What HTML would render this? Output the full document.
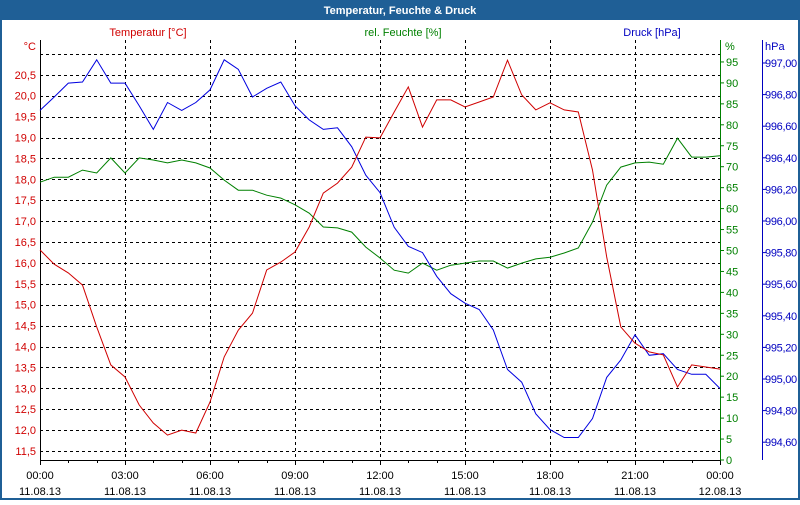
<!DOCTYPE html>
<html><head><meta charset="utf-8"><style>
body{margin:0;width:800px;height:500px;overflow:hidden;background:#fff;font-family:"Liberation Sans","DejaVu Sans",sans-serif}
svg text{font-family:"Liberation Sans","DejaVu Sans",sans-serif;font-size:11px}
</style></head><body>
<svg id="chart" width="800" height="500" xmlns="http://www.w3.org/2000/svg">
<rect x="0" y="0" width="800" height="500" fill="#1f5f96"/>
<rect x="2" y="20" width="796" height="478" fill="#ffffff"/>
<text x="400" y="14" text-anchor="middle" fill="#fff" font-weight="bold">Temperatur, Feuchte &amp; Druck</text>
<text x="148" y="36" text-anchor="middle" fill="#d00000">Temperatur [°C]</text>
<text x="403" y="36" text-anchor="middle" fill="#008000">rel. Feuchte [%]</text>
<text x="652" y="36" text-anchor="middle" fill="#0000c0">Druck [hPa]</text>
<text x="36" y="50" text-anchor="end" fill="#d00000">°C</text>
<text x="725" y="50" fill="#008000">%</text>
<text x="765" y="50" fill="#0000c0">hPa</text>
<g id="grid"></g><g id="axes"></g><g id="series"></g>
</svg>
<script>
const timeLabels=["00:00","03:00","06:00","09:00","12:00","15:00","18:00","21:00","00:00"];
const dateLabels=["11.08.13","11.08.13","11.08.13","11.08.13","11.08.13","11.08.13","11.08.13","11.08.13","12.08.13"];
const tempTicks=[20.5,20,19.5,19,18.5,18,17.5,17,16.5,16,15.5,15,14.5,14,13.5,13,12.5,12,11.5];
const humTicks=[95,90,85,80,75,70,65,60,55,50,45,40,35,30,25,20,15,10,5,0];
const presTicks=[997.0,996.8,996.6,996.4,996.2,996.0,995.8,995.6,995.4,995.2,995.0,994.8,994.6];
const hours=[0,0.5,1,1.5,2,2.5,3,3.5,4,4.5,5,5.5,6,6.5,7,7.5,8,8.5,9,9.5,10,10.5,11,11.5,12,12.5,13,13.5,14,14.5,15,15.5,16,16.5,17,17.5,18,18.5,19,19.5,20,20.5,21,21.5,22,22.5,23,23.5,24];
const temperature=[16.31,15.97,15.76,15.47,14.47,13.56,13.27,12.6,12.17,11.88,12.0,11.93,12.67,13.75,14.39,14.8,15.83,16.02,16.26,16.86,17.67,17.91,18.29,19.01,18.99,19.61,20.21,19.25,19.9,19.9,19.73,19.85,19.97,20.85,20.02,19.66,19.83,19.66,19.61,18.22,16.14,14.47,14.08,13.87,13.8,13.03,13.56,13.51,13.46];
const humidity=[66.3,67.5,67.5,69.2,68.5,72.1,68.5,72.1,71.6,70.9,71.6,70.9,69.7,66.8,64.4,64.4,63.2,62.5,60.9,58.9,55.6,55.4,54.4,50.8,48.2,45.3,44.6,47,45.3,46.5,47,47.5,47.5,45.8,47,48,48.4,49.4,50.6,56.8,65.6,69.9,70.9,71.1,70.6,76.8,72.3,72.3,72.6];
const pressure=[996.70,996.785,996.873,996.88,997.02,996.873,996.873,996.73,996.58,996.75,996.70,996.75,996.83,997.02,996.96,996.785,996.84,996.88,996.73,996.64,996.58,996.59,996.47,996.29,996.18,995.96,995.84,995.80,995.65,995.54,995.48,995.44,995.31,995.06,994.98,994.78,994.68,994.63,994.63,994.75,995.01,995.12,995.28,995.15,995.16,995.06,995.03,995.03,994.94];

const L=40,R=720,T=40,B=460;
const xS=h=>L+(R-L)*h/24;
const yT=v=>451-(v-11.5)*41.8;
const yH=v=>460-v*4.19;
const yP=v=>63+(997-v)*158;
const NS="http://www.w3.org/2000/svg";
function mk(tag,attrs,parent){const e=document.createElementNS(NS,tag);for(const k in attrs)e.setAttribute(k,attrs[k]);parent.appendChild(e);return e;}
const grid=document.getElementById('grid'),axes=document.getElementById('axes'),ser=document.getElementById('series');
[21.0].concat(tempTicks).forEach(v=>{const l=mk('line',{x1:L,x2:R,y1:Math.round(yT(v))+0.5,y2:Math.round(yT(v))+0.5,stroke:'#000','stroke-dasharray':'3,3','stroke-width':1},grid);

});
for(let i=1;i<8;i++){const x=Math.round(xS(i*3))+0.5;const l=mk('line',{x1:x,x2:x,y1:T,y2:B,stroke:'#000','stroke-dasharray':'3,3','stroke-width':1},grid);

}
let a=mk('line',{x1:L+0.5,x2:L+0.5,y1:T,y2:B+2,stroke:'#000'},axes);


a=mk('line',{x1:L,x2:R,y1:B+0.5,y2:B+0.5,stroke:'#000'},axes);


a=mk('line',{x1:R+0.5,x2:R+0.5,y1:T,y2:B,stroke:'#008000'},axes);


a=mk('line',{x1:762.5,x2:762.5,y1:T,y2:B,stroke:'#0000c0'},axes);


for(let i=0;i<=24;i++){const x=Math.round(xS(i))+0.5;const t=mk('line',{x1:x,x2:x,y1:B,y2:B+(i%3==0?5:3),stroke:'#000'},axes);

}
timeLabels.forEach((s,i)=>{const t=mk('text',{x:xS(i*3),y:479,'text-anchor':'middle',fill:'#000'},axes);t.textContent=s;


const d=mk('text',{x:xS(i*3),y:495,'text-anchor':'middle',fill:'#000'},axes);d.textContent=dateLabels[i];

});
tempTicks.forEach(v=>{const t=mk('text',{x:36,y:yT(v)+4,'text-anchor':'end',fill:'#d00000'},axes);t.textContent=v.toFixed(1).replace('.',',');

});
humTicks.forEach(v=>{const y=yH(v);const tk=mk('line',{x1:R,x2:R+4,y1:y,y2:y,stroke:'#008000'},axes);


const t=mk('text',{x:R+6,y:y+4,fill:'#008000'},axes);t.textContent=String(v);

});
presTicks.forEach(v=>{const y=yP(v);const tk=mk('line',{x1:762,x2:766,y1:y,y2:y,stroke:'#0000c0'},axes);


const t=mk('text',{x:765,y:y+4,fill:'#0000c0','letter-spacing':'-0.3'},axes);t.textContent=v.toFixed(2).replace('.',',');

});
function line(vals,ys,color,name){const pts=vals.map((v,i)=>xS(hours[i]).toFixed(1)+','+ys(v).toFixed(1)).join(' ');
const p=mk('polyline',{points:pts,fill:'none',stroke:color,'stroke-width':1},ser);

}
line(humidity,yH,'#008000','humidity-line');
line(pressure,yP,'#0000e0','pressure-line');
line(temperature,yT,'#d00000','temperature-line');
</script>
</body></html>
